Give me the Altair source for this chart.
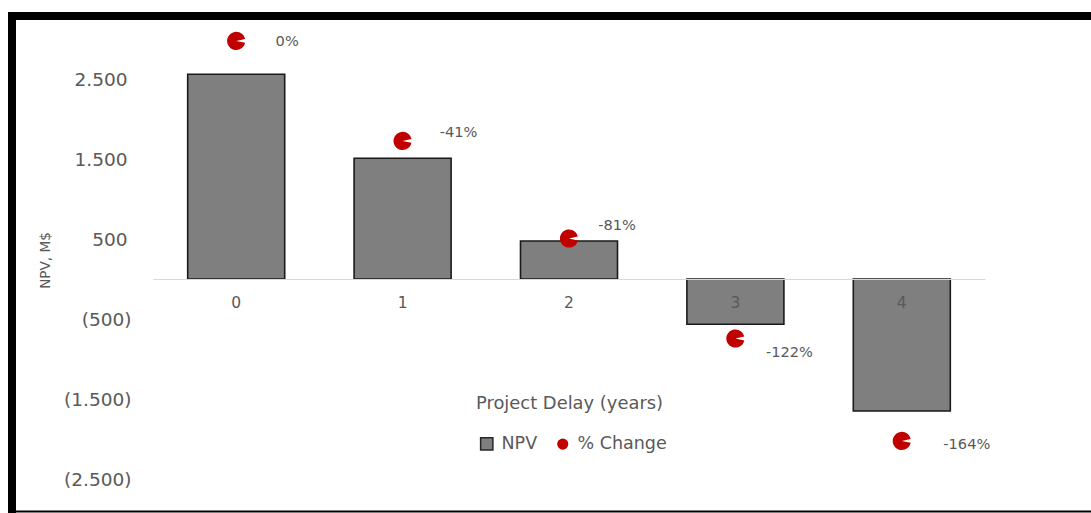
import altair as alt
import pandas as pd

# NPV (M$) of the project for each year of delay, and its % change vs. no delay
delay_years = [0, 1, 2, 3, 4]
npv_musd = [2560, 1510, 475, -565, -1650]
pct_change = [0, -41, -81, -122, -164]

# tick values shown on the NPV axis
npv_ticks = [2500, 1500, 500, -500, -1500, -2500]

# legend entries
series_names = ["NPV", "% Change"]

df = pd.DataFrame({"delay": delay_years, "npv": npv_musd, "pct": pct_change})
legend_df = pd.DataFrame({"series": series_names})

# ---- layout / style ----
W, H = 832, 440
PAD = {"left": 153, "top": 39, "right": 106, "bottom": 34}
NPV_DOMAIN = [-2500, 3000]
PCT_DOMAIN = [-179.6, 0.8]
TEXT = "#595959"
GREY = "#7f7f7f"
RED = "#c00000"
FONT = "DejaVu Sans"

# red "pac-man" marker with a thin mouth opening to the right
PACMAN = "M0,0 L0.978,-0.208 A1,1 0 1,0 0.978,0.208 Z"

# x axis sits on the zero line of the NPV scale
zero_offset = -H * (0 - NPV_DOMAIN[0]) / (NPV_DOMAIN[1] - NPV_DOMAIN[0])

x_axis = alt.Axis(
    orient="bottom", offset=zero_offset, domainColor="#d9d9d9", domainWidth=1,
    ticks=False, grid=False, labelAngle=0, labelFont=FONT, labelFontSize=15.5,
    labelColor=TEXT, labelPadding=16, title="Project Delay (years)",
    titleFont=FONT, titleFontSize=17.9, titleFontWeight="normal",
    titleColor=TEXT, titleY=124, titleBaseline="middle", zindex=1,
)
x_scale = alt.Scale(paddingInner=0.417, paddingOuter=0.2085)

# thousands with "." and negatives in parentheses, e.g. (1.500)
npv_label = (
    "datum.value < 0 ? '(' + replace(format(-datum.value, ',.0f'), ',', '.') + ')'"
    " : replace(format(datum.value, ',.0f'), ',', '.')"
)
y_axis = alt.Axis(
    values=npv_ticks, labelExpr=npv_label, labelFont=FONT, labelFontSize=18.5,
    labelColor=TEXT,
    labelPadding={"condition": {"test": "datum.value < 0", "value": 22}, "value": 26},
    domain=False, ticks=False, grid=False,
    title="NPV, M$", titleFont=FONT, titleFontSize=13.6,
    titleFontWeight="normal", titleColor=TEXT, titleX=-108, titleY=221,
    titleAngle=270, titleAlign="center", titleBaseline="middle",
)

legend = alt.Legend(
    title=None, orient="none", legendX=325, legendY=396, direction="horizontal",
    labelFont=FONT, labelFontSize=17.5, labelColor=TEXT,
    labelOffset=6, columnPadding=16, padding=0, symbolStrokeWidth=1.5,
    symbolOpacity=1,
)
series_color = alt.Color(
    "series:N", scale=alt.Scale(domain=series_names, range=[GREY, RED]), legend=legend,
)

x_enc = alt.X("delay:O", axis=x_axis, scale=x_scale)
pct_y = alt.Y("pct:Q", scale=alt.Scale(domain=PCT_DOMAIN, nice=False, zero=False), axis=None)

bars = (
    alt.Chart(df)
    .transform_calculate(series="'NPV'")
    .mark_bar(stroke="#1a1a1a", strokeWidth=1.6)
    .encode(
        x=x_enc,
        y=alt.Y("npv:Q", scale=alt.Scale(domain=NPV_DOMAIN, nice=False, zero=False), axis=y_axis),
        color=series_color,
    )
)

points = (
    alt.Chart(df)
    .transform_calculate(series="'% Change'")
    .mark_point(shape=PACMAN, filled=True, size=330, opacity=1)
    .encode(x=x_enc, y=pct_y, color=series_color)
)

# per-label placement of the % change annotations (dx, dy)
LABEL_OFFSETS = {0: (51, 1), 1: (56, -8), 2: (48, -13), 3: (54, 14), 4: (65, 4)}
pct_labels = [
    alt.Chart(df)
    .transform_filter(alt.datum.delay == d)
    .transform_calculate(label="datum.pct + '%'")
    .mark_text(dx=dx, dy=dy, font=FONT, fontSize=14.6, color=TEXT)
    .encode(x=x_enc, y=pct_y, text="label:N")
    for d, (dx, dy) in LABEL_OFFSETS.items()
]

pct_layer = alt.layer(points, *pct_labels)

# legend keys: grey outlined square for the bars, small red dot for the markers
legend_keys = (
    alt.Chart(legend_df)
    .mark_point(filled=True, opacity=1, strokeWidth=1.5)
    .encode(
        x=alt.value(-3000), y=alt.value(-3000),
        color=series_color,
        shape=alt.Shape("series:N", scale=alt.Scale(domain=series_names, range=["square", "circle"]), legend=legend),
        size=alt.Size("series:N", scale=alt.Scale(domain=series_names, range=[150, 125]), legend=legend),
        stroke=alt.Stroke("series:N", scale=alt.Scale(domain=series_names, range=["#262626", "transparent"]), legend=legend),
    )
)

# black frame around the chart (thick top and left edges, thin bottom edge)
one = alt.Data(values=[{}])
frame = [
    alt.Chart(one).mark_rect(color="black").encode(
        x=alt.value(-145), x2=alt.value(938), y=alt.value(-27), y2=alt.value(-19)),
    alt.Chart(one).mark_rect(color="black").encode(
        x=alt.value(-145), x2=alt.value(-137), y=alt.value(-27), y2=alt.value(474)),
    alt.Chart(one).mark_rect(color="black").encode(
        x=alt.value(-145), x2=alt.value(938), y=alt.value(471.5), y2=alt.value(473.5)),
]

chart = (
    alt.layer(bars, pct_layer, legend_keys, *frame)
    .resolve_scale(y="independent")
    .properties(width=W, height=H, padding=PAD, autosize=alt.AutoSizeParams(type="none"),
                background="white")
    .configure_view(stroke=None)
)

chart.save("out.html", embed_options={"renderer": "svg", "actions": False})
